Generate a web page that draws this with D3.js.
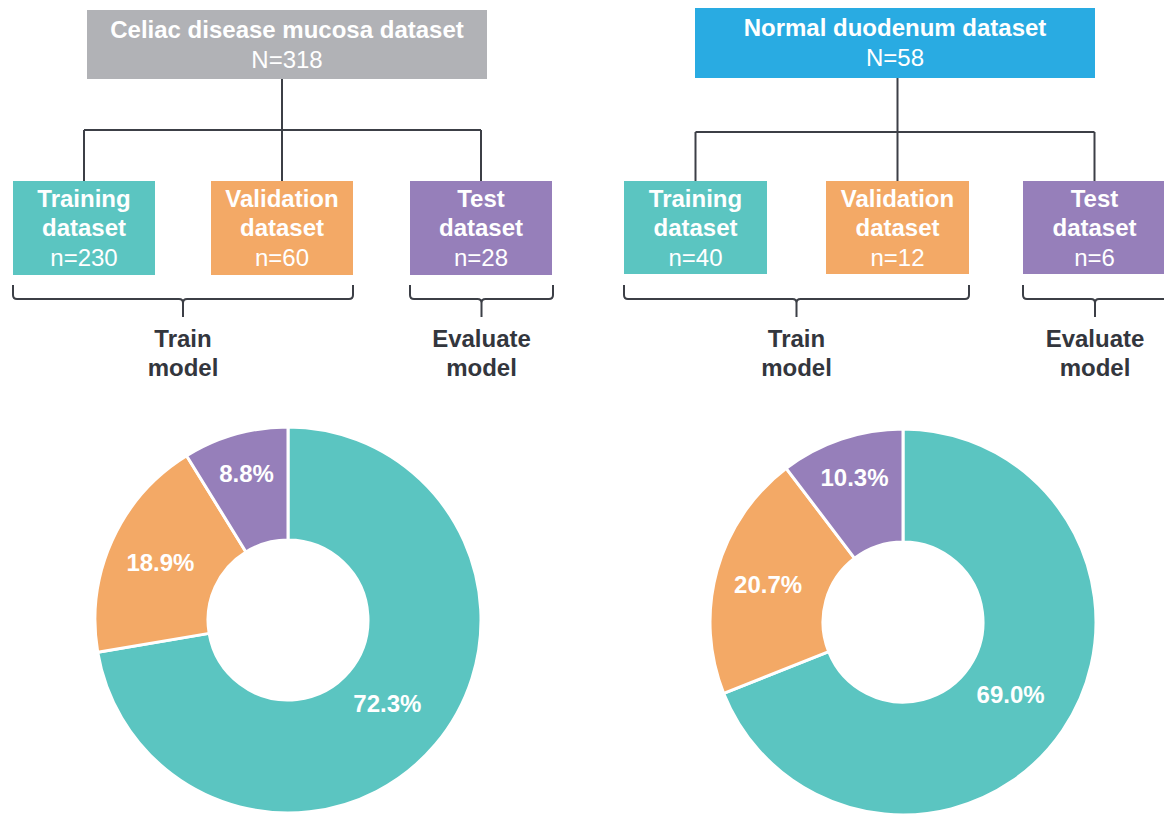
<!DOCTYPE html>
<html>
<head>
<meta charset="utf-8">
<script src="https://cdn.jsdelivr.net/npm/d3@7"></script>
<style>
  html, body { margin: 0; padding: 0; background: #ffffff; }
  svg { display: block; font-family: "Liberation Sans", Arial, Helvetica, sans-serif; }
</style>
</head>
<body>
<svg id="chart" width="1164" height="814"></svg>
<script>
// ---- data ----
const datasetNames = ["Celiac disease mucosa dataset", "Normal duodenum dataset"];
const datasetTotals = [318, 58];
const splitNames = ["Training", "Validation", "Test"];
const celiacCounts = [230, 60, 28];
const normalCounts = [40, 12, 6];
const groupLabels = [["Train", "model"], ["Evaluate", "model"]];

// ---- styles / layout ----
const topColors = ["#b1b2b6", "#29abe2"];
const splitColors = ["#5bc5c1", "#f3a966", "#967fba"];
const lineColor = "#3c3f46";
const textDark = "#33363d";
const FONT = 24;

const layout = [
  { top: { x: 87, y: 10, w: 400, h: 69 }, busY: 130, boxX: [13, 211, 410], boxY: 181, boxW: 142, boxH: 94,
    donut: { cx: 288, cy: 620 } },
  { top: { x: 695, y: 8, w: 400, h: 70 }, busY: 132, boxX: [624, 826, 1023], boxY: 181, boxW: 143, boxH: 93,
    donut: { cx: 903, cy: 622 } }
];
const countsBy = [celiacCounts, normalCounts];

const svg = d3.select("#chart");
const fmtPct = d3.format(".1%");
const outerR = 193, innerR = 80;
const labelR = [130, 140, 152];

layout.forEach((L, p) => {
  const g = svg.append("g");
  const counts = countsBy[p];
  const centers = L.boxX.map(x => x + L.boxW / 2);

  // connectors
  const lines = [
    [[centers[1], L.top.y + L.top.h], [centers[1], L.boxY]],
    [[centers[0], L.busY], [centers[2], L.busY]],
    [[centers[0], L.busY], [centers[0], L.boxY]],
    [[centers[2], L.busY], [centers[2], L.boxY]]
  ];
  g.selectAll("path.conn").data(lines).join("path")
    .attr("class", "conn")
    .attr("d", d3.line())
    .attr("fill", "none").attr("stroke", lineColor).attr("stroke-width", 2);

  // top box
  g.append("rect").attr("x", L.top.x).attr("y", L.top.y).attr("width", L.top.w).attr("height", L.top.h)
    .attr("fill", topColors[p]);
  const tcx = L.top.x + L.top.w / 2;
  g.append("text").attr("x", tcx).attr("y", L.top.y + 28).attr("text-anchor", "middle")
    .attr("fill", "#fff").attr("font-size", FONT).attr("font-weight", "bold").text(datasetNames[p]);
  g.append("text").attr("x", tcx).attr("y", L.top.y + 58).attr("text-anchor", "middle")
    .attr("fill", "#fff").attr("font-size", FONT).text("N=" + datasetTotals[p]);

  // split boxes
  const boxes = g.selectAll("g.box").data(splitNames.map((s, i) => ({ name: s, n: counts[i], i }))).join("g")
    .attr("class", "box")
    .attr("transform", d => `translate(${L.boxX[d.i]},${L.boxY})`);
  boxes.append("rect").attr("width", L.boxW).attr("height", L.boxH).attr("fill", d => splitColors[d.i]);
  boxes.append("text").attr("x", L.boxW / 2).attr("y", 26).attr("text-anchor", "middle")
    .attr("fill", "#fff").attr("font-size", FONT).attr("font-weight", "bold").text(d => d.name);
  boxes.append("text").attr("x", L.boxW / 2).attr("y", 55).attr("text-anchor", "middle")
    .attr("fill", "#fff").attr("font-size", FONT).attr("font-weight", "bold").text("dataset");
  boxes.append("text").attr("x", L.boxW / 2).attr("y", 85).attr("text-anchor", "middle")
    .attr("fill", "#fff").attr("font-size", FONT).text(d => "n=" + d.n);

  // braces
  const braceTop = 285, braceY = 299, braceTip = 317;
  const spans = [
    [L.boxX[0], L.boxX[1] + L.boxW],
    [L.boxX[2], L.boxX[2] + L.boxW + 1]
  ];
  spans.forEach((s, k) => {
    const x0 = s[0], x1 = s[1], xm = (x0 + x1) / 2;
    const path = `M${x0},${braceTop} L${x0},${braceY - 4} Q${x0},${braceY} ${x0 + 4},${braceY} ` +
      `L${xm - 4},${braceY} Q${xm},${braceY} ${xm},${braceY + 4} L${xm},${braceTip} ` +
      `M${xm},${braceY + 4} Q${xm},${braceY} ${xm + 4},${braceY} L${x1 - 4},${braceY} ` +
      `Q${x1},${braceY} ${x1},${braceY - 4} L${x1},${braceTop}`;
    g.append("path").attr("d", path).attr("fill", "none").attr("stroke", lineColor).attr("stroke-width", 2);
    groupLabels[k].forEach((t, j) => {
      g.append("text").attr("x", xm).attr("y", 347 + j * 28.5).attr("text-anchor", "middle")
        .attr("fill", textDark).attr("font-size", FONT).attr("font-weight", "bold").text(t);
    });
  });

  // donut
  const total = d3.sum(counts);
  const pie = d3.pie().sort(null).value(d => d.n);
  const arcs = pie(counts.map((n, i) => ({ n, i })));
  const arc = d3.arc().innerRadius(innerR).outerRadius(outerR);
  const dg = g.append("g").attr("transform", `translate(${L.donut.cx},${L.donut.cy})`);
  dg.selectAll("path").data(arcs).join("path")
    .attr("d", arc)
    .attr("fill", d => splitColors[d.data.i])
    .attr("stroke", "#fff").attr("stroke-width", 3).attr("stroke-linejoin", "round");
  dg.selectAll("text").data(arcs).join("text")
    .attr("transform", d => {
      const a = (d.startAngle + d.endAngle) / 2;
      const r = labelR[d.data.i];
      return `translate(${r * Math.sin(a)},${-r * Math.cos(a)})`;
    })
    .attr("text-anchor", "middle").attr("dominant-baseline", "central")
    .attr("fill", "#fff").attr("font-size", FONT).attr("font-weight", "bold")
    .text(d => fmtPct(d.data.n / total));
});
</script>
</body>
</html>
